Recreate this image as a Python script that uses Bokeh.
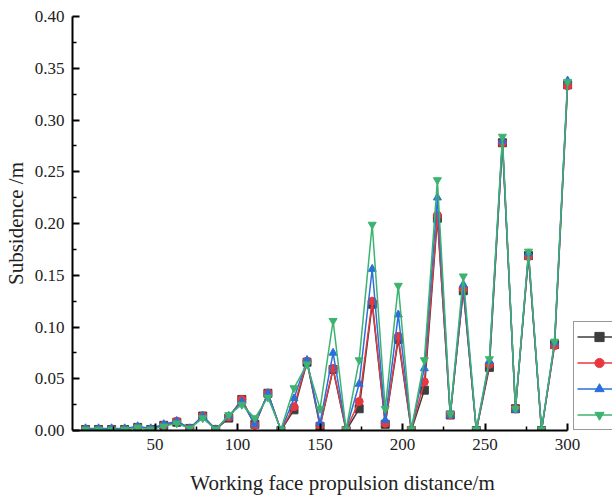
from bokeh.plotting import figure
from bokeh.models import Range1d, FixedTicker, PrintfTickFormatter, Legend, LegendItem
from bokeh.embed import file_html
from bokeh.resources import INLINE

# ---- data ----
distance = [7.9, 15.8, 23.7, 31.6, 39.5, 47.4, 55.3, 63.2, 71.1, 78.9,
            86.8, 94.7, 102.6, 110.5, 118.4, 126.3, 134.2, 142.1, 150.0, 157.9,
            165.8, 173.7, 181.6, 189.5, 197.4, 205.3, 213.2, 221.1, 228.9, 236.8,
            244.7, 252.6, 260.5, 268.4, 276.3, 284.2, 292.1, 300.0]

series_black = [0.001, 0.001, 0.001, 0.001, 0.003, 0.001, 0.005, 0.008, 0.002, 0.014,
                0.001, 0.012, 0.030, 0.006, 0.036, 0.000, 0.020, 0.066, 0.004, 0.059,
                0.000, 0.021, 0.122, 0.006, 0.088, 0.000, 0.039, 0.205, 0.015, 0.135,
                0.000, 0.061, 0.278, 0.021, 0.169, 0.000, 0.083, 0.334]
series_red = [0.001, 0.001, 0.001, 0.001, 0.003, 0.001, 0.005, 0.009, 0.002, 0.014,
              0.001, 0.013, 0.030, 0.005, 0.036, 0.000, 0.023, 0.067, 0.005, 0.060,
              0.001, 0.028, 0.125, 0.007, 0.091, 0.001, 0.047, 0.208, 0.015, 0.137,
              0.000, 0.064, 0.278, 0.021, 0.168, 0.000, 0.082, 0.333]
series_blue = [0.002, 0.002, 0.002, 0.002, 0.004, 0.002, 0.006, 0.009, 0.002, 0.014,
               0.001, 0.014, 0.028, 0.006, 0.036, 0.000, 0.031, 0.068, 0.007, 0.075,
               0.001, 0.045, 0.156, 0.010, 0.112, 0.001, 0.060, 0.225, 0.015, 0.141,
               0.000, 0.067, 0.280, 0.020, 0.171, 0.000, 0.085, 0.338]
series_green = [0.001, 0.001, 0.001, 0.001, 0.003, 0.001, 0.004, 0.007, 0.002, 0.012,
                0.001, 0.015, 0.025, 0.012, 0.032, 0.001, 0.041, 0.064, 0.021, 0.106,
                0.001, 0.068, 0.199, 0.021, 0.140, 0.001, 0.068, 0.242, 0.016, 0.149,
                0.001, 0.069, 0.284, 0.021, 0.173, 0.001, 0.086, 0.337]

x_ticks = [50, 100, 150, 200, 250, 300]
x_minor = [25, 75, 125, 175, 225, 275]
y_ticks = [0.0, 0.05, 0.10, 0.15, 0.20, 0.25, 0.30, 0.35, 0.40]
y_minor = [0.025, 0.075, 0.125, 0.175, 0.225, 0.275, 0.325, 0.375]

FONT = "Liberation Serif"

p = figure(width=612, height=497, output_backend="svg", toolbar_location=None,
           x_range=Range1d(0, 327.2), y_range=Range1d(0, 0.40),
           min_border_left=70, min_border_right=0, min_border_top=16, min_border_bottom=65)
p.outline_line_color = None
p.xgrid.visible = False
p.ygrid.visible = False
p.background_fill_color = "white"
p.border_fill_color = "white"

styles = [
    (series_black, "#3d3d3d", "square"),
    (series_red, "#e8383d", "circle"),
    (series_blue, "#2a6fdb", "triangle"),
    (series_green, "#3cb371", "inverted_triangle"),
]
items = []
for vals, col, mk in styles:
    ln = p.line(distance, vals, line_color=col, line_width=1.5)
    sc = p.scatter(distance, vals, marker=mk, size=8, fill_color=col, line_color=col)
    items.append(LegendItem(label=" ", renderers=[ln, sc]))

legend = Legend(items=items, location=(501, 0), padding=3, spacing=3,
                glyph_height=23, glyph_width=44, label_height=23,
                border_line_color="#333333", border_line_width=1,
                background_fill_color="white", background_fill_alpha=1.0,
                label_text_font=FONT, label_text_font_size="16px")
p.add_layout(legend, "center")

for ax in (p.xaxis[0], p.yaxis[0]):
    ax.axis_line_color = "black"
    ax.axis_line_width = 2
    ax.major_tick_line_color = "black"
    ax.major_tick_line_width = 2
    ax.minor_tick_line_color = "black"
    ax.minor_tick_line_width = 1.5
    ax.major_tick_in = 7
    ax.major_tick_out = 0
    ax.minor_tick_in = 4
    ax.minor_tick_out = 0
    ax.major_label_text_font = FONT
    ax.major_label_text_font_size = "17px"
    ax.major_label_text_color = "#222222"
    ax.axis_label_text_font = FONT
    ax.axis_label_text_font_size = "21px"
    ax.axis_label_text_font_style = "normal"
    ax.axis_label_text_color = "#222222"
    ax.major_label_standoff = 8

p.xaxis[0].ticker = FixedTicker(ticks=x_ticks, minor_ticks=x_minor)
p.xaxis[0].bounds = (0, 300)
p.xaxis[0].axis_label = "Working face propulsion distance/m"
p.xaxis[0].axis_label_standoff = 18

p.yaxis[0].ticker = FixedTicker(ticks=y_ticks, minor_ticks=y_minor)
p.yaxis[0].formatter = PrintfTickFormatter(format="%.2f")
p.yaxis[0].axis_label = "Subsidence /m"
p.yaxis[0].axis_label_standoff = 4

open("out.html", "w").write(file_html(p, INLINE))
